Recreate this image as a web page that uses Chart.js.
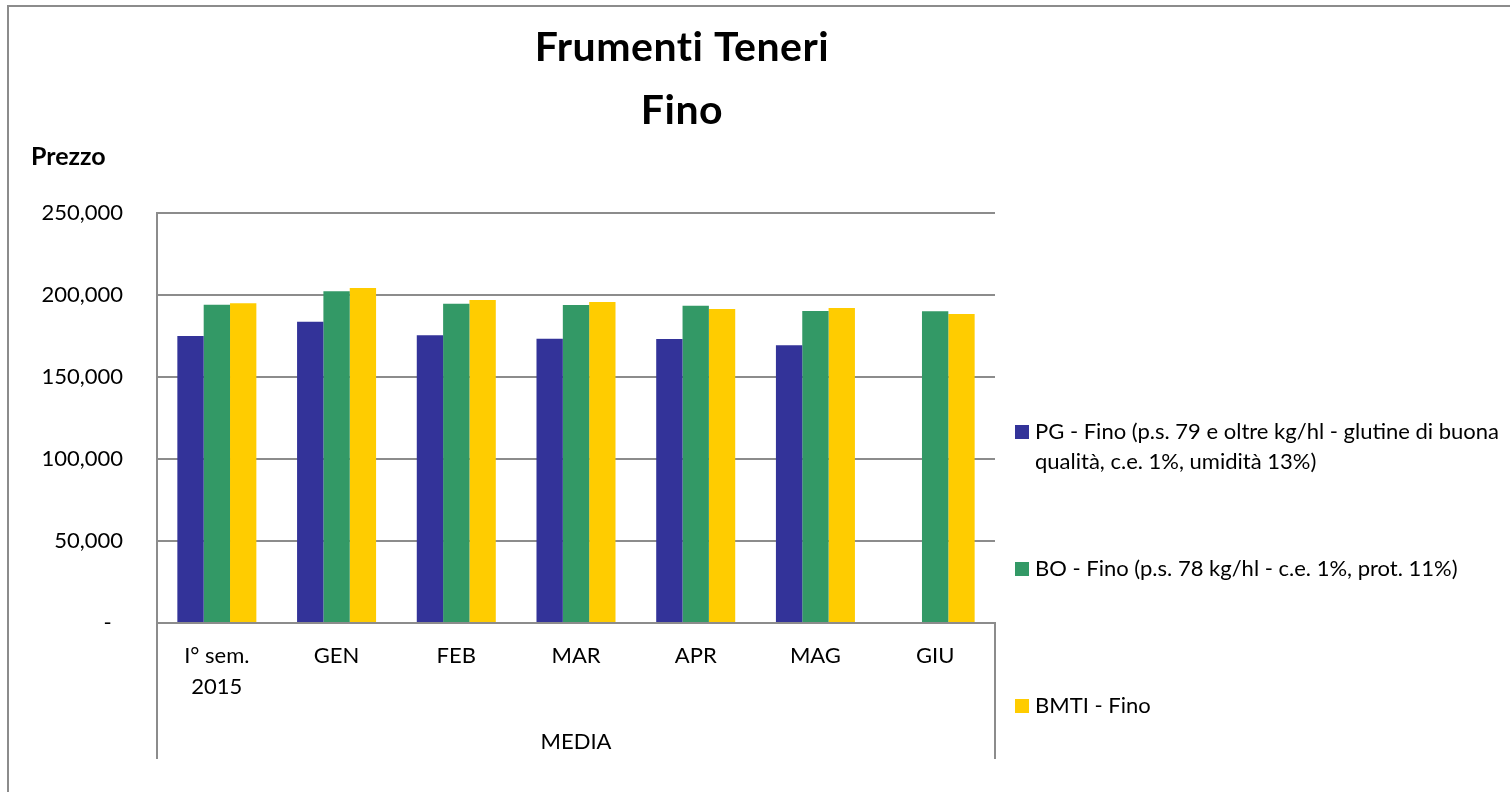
<!DOCTYPE html>
<html>
<head>
<meta charset="utf-8">
<script src="https://cdn.jsdelivr.net/npm/chart.js"></script>
<style>
  html, body { margin: 0; padding: 0; background: #fff; }
  #wrap { width: 1510px; height: 792px; position: relative; }
</style>
</head>
<body>
<div id="wrap"><canvas id="priceChart"></canvas></div>
<script>
const categories = [['I° sem.', '2015'], 'GEN', 'FEB', 'MAR', 'APR', 'MAG', 'GIU'];
const pgValues   = [175000, 183700, 175400, 173350, 173150, 169300, null];
const boValues   = [194100, 202250, 194700, 193900, 193500, 190250, 190050];
const bmtiValues = [195000, 204250, 196950, 195750, 191450, 192050, 188400];
const seriesLabels = [
    ['PG - Fino (p.s. 79 e oltre kg/hl - glutine di buona', 'qualità, c.e. 1%, umidità 13%)'],
    ['BO - Fino (p.s. 78 kg/hl - c.e. 1%, prot. 11%)'],
    ['BMTI - Fino']
];
const seriesColors = ['#333399', '#339966', '#FFCC00'];
const titleLines = ['Frumenti Teneri', 'Fino'];
const yTitle = 'Prezzo';
const groupLabel = 'MEDIA';

const FONT = 'Lato, "Open Sans", sans-serif';
const GRID = '#8c8c8c';

// draws frame, titles, group label and the legend around the plot
const decorations = {
    id: 'decorations',
    afterDraw(chart) {
        const c = chart.ctx;
        const area = chart.chartArea;
        c.save();

        // outer frame (only left/top visible in the original)
        c.strokeStyle = '#8c8c8c';
        c.lineWidth = 2;
        c.beginPath();
        c.moveTo(8, 792);
        c.lineTo(8, 6);
        c.lineTo(1510, 6);
        c.stroke();

        // category group separators below the axis
        c.strokeStyle = GRID;
        c.lineWidth = 2;
        c.beginPath();
        c.moveTo(area.left, area.bottom);
        c.lineTo(area.left, 759);
        c.moveTo(area.right, area.bottom);
        c.lineTo(area.right, 759);
        c.stroke();

        c.fillStyle = '#000';
        c.textBaseline = 'alphabetic';

        // title
        c.font = 'bold 41px ' + FONT;
        c.letterSpacing = '0.5px';
        c.textAlign = 'center';
        c.fillText(titleLines[0], 682, 61);
        c.fillText(titleLines[1], 682, 124);
        c.letterSpacing = '0px';

        // y title
        c.font = 'bold 25px ' + FONT;
        c.textAlign = 'left';
        c.fillText(yTitle, 31, 165);

        // group label
        c.font = '22px ' + FONT;
        c.textAlign = 'center';
        c.fillText(groupLabel, (area.left + area.right) / 2, 749);

        // legend
        const rows = [432, 569, 706];
        c.font = '22px ' + FONT;
        c.textAlign = 'left';
        c.textBaseline = 'middle';
        chart.data.datasets.forEach((ds, i) => {
            const y = rows[i];
            c.fillStyle = ds.backgroundColor;
            c.fillRect(1015, y - 7, 14, 14);
            c.fillStyle = '#000';
            seriesLabels[i].forEach((line, j) => {
                c.fillText(line, 1035, y + j * 30);
            });
        });

        c.restore();
    }
};

new Chart(document.getElementById('priceChart'), {
    type: 'bar',
    data: {
        labels: categories,
        datasets: [
            { label: seriesLabels[0].join(' '), data: pgValues, backgroundColor: seriesColors[0] },
            { label: seriesLabels[1].join(' '), data: boValues, backgroundColor: seriesColors[1] },
            { label: seriesLabels[2].join(' '), data: bmtiValues, backgroundColor: seriesColors[2] }
        ]
    },
    options: {
        responsive: true,
        maintainAspectRatio: false,
        animation: false,
        layout: { padding: { left: 10, top: 213, right: 515, bottom: 10 } },
        datasets: { bar: { categoryPercentage: 0.66, barPercentage: 1.0, borderWidth: 0 } },
        plugins: {
            legend: { display: false },
            title: { display: false },
            tooltip: { enabled: false }
        },
        scales: {
            x: {
                grid: { display: false, drawTicks: false },
                border: { display: true, color: GRID, width: 2 },
                ticks: {
                    color: '#000',
                    font: { family: FONT, size: 22, lineHeight: 1.4 },
                    padding: 18,
                    maxRotation: 0,
                    autoSkip: false
                },
                afterFit(scale) { scale.height = 159; }
            },
            y: {
                min: 0,
                max: 250000,
                grid: { color: GRID, lineWidth: 2, drawTicks: false },
                border: { display: true, color: GRID, width: 2 },
                ticks: {
                    stepSize: 50000,
                    color: '#000',
                    font: { family: FONT, size: 22 },
                    padding: 34,
                    callback: v => v === 0 ? '-  ' : v.toLocaleString('en-US')
                },
                afterFit(scale) { scale.width = 147; }
            }
        }
    },
    plugins: [decorations]
});
</script>
</body>
</html>
